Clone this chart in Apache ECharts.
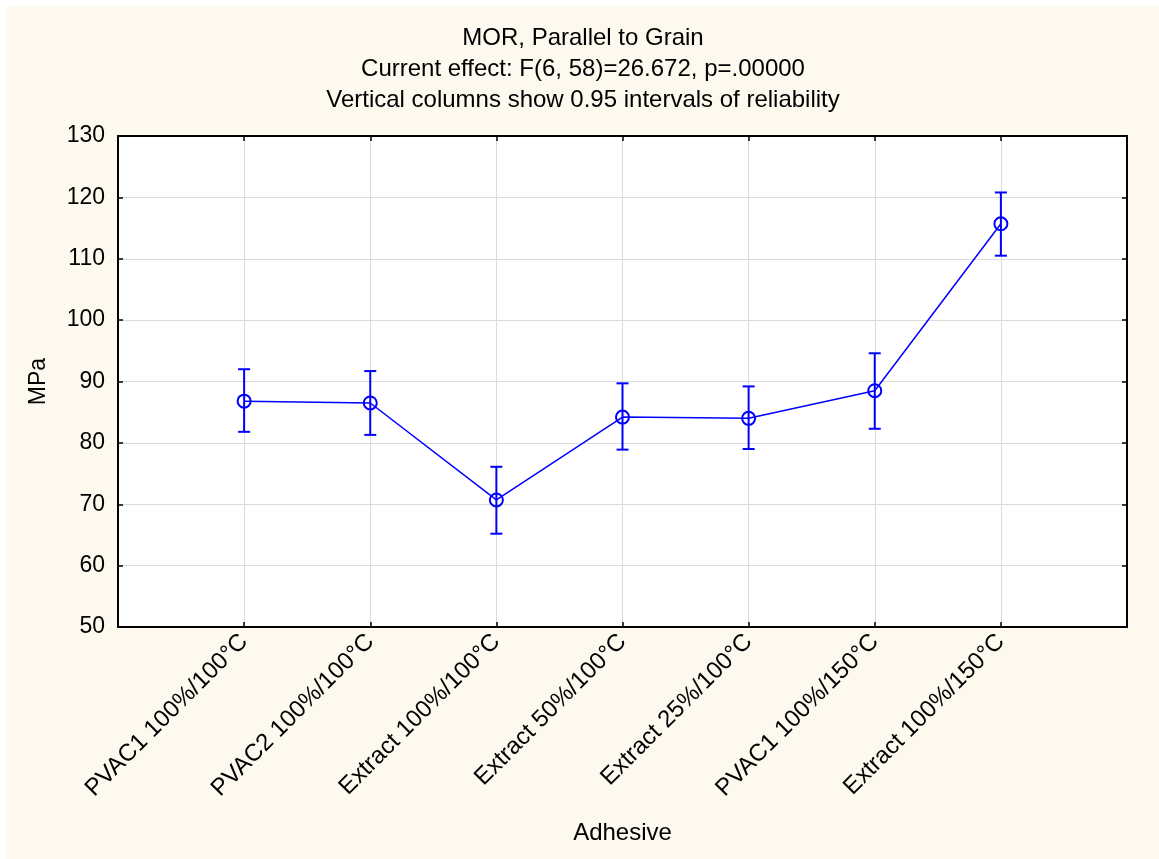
<!DOCTYPE html>
<html>
<head>
<meta charset="utf-8">
<script src="https://cdn.jsdelivr.net/npm/echarts@6/dist/echarts.min.js"></script>
<style>
html,body{margin:0;padding:0;background:#ffffff;}
#wrap{position:absolute;left:7px;top:6px;width:1152px;height:853px;background:#FDF9EF;}
#chart{width:1152px;height:853px;}
</style>
</head>
<body>
<div id="wrap"><div id="chart"></div></div>
<script>
const titleLines = ["MOR, Parallel to Grain", "Current effect: F(6, 58)=26.672, p=.00000", "Vertical columns show 0.95 intervals of reliability"];
const categories = ["PVAC1 100%/100°C", "PVAC2 100%/100°C", "Extract 100%/100°C", "Extract 50%/100°C", "Extract 25%/100°C", "PVAC1 100%/150°C", "Extract 100%/150°C"];
const means = [86.8, 86.5, 70.7, 84.2, 84.0, 88.5, 115.7];
const upper = [92.0, 91.7, 76.1, 89.7, 89.2, 94.6, 120.8];
const lower = [81.8, 81.3, 65.2, 78.9, 79.0, 82.3, 110.5];
const yTicks = [50, 60, 70, 80, 90, 100, 110, 120, 130];
const xName = "Adhesive";
const yName = "MPa";

// padded categories so that the plot has half-empty bands on both ends
const axisCats = [""].concat(categories, [""]);
const lineData = means.map((v, i) => [i + 1, v]);
const errData = means.map((v, i) => [i + 1, lower[i], upper[i]]);

const chart = echarts.init(document.getElementById('chart'), null, {renderer: 'canvas'});
const FONT = 'Liberation Sans, Arial, sans-serif';
const gridLine = {show: true, lineStyle: {color: '#dcdcdc', width: 1}};
chart.setOption({
  backgroundColor: 'transparent',
  animation: false,
  title: {
    text: titleLines.join('\n'),
    left: 'center',
    top: 12,
    textStyle: {fontFamily: FONT, fontSize: 24, fontWeight: 'normal', color: '#000', lineHeight: 31}
  },
  grid: {left: 111, top: 130, width: 1009, height: 491, containLabel: false,
         show: true, backgroundColor: '#ffffff', borderWidth: 0},
  xAxis: [{
    type: 'category',
    data: axisCats,
    boundaryGap: false,
    position: 'bottom',
    name: xName,
    nameLocation: 'middle',
    nameGap: 194,
    nameTextStyle: {fontFamily: FONT, fontSize: 24, color: '#000'},
    axisLine: {show: true, lineStyle: {color: '#000', width: 2}},
    axisTick: {show: true, inside: true, length: 5, lineStyle: {color: '#000', width: 1.5}, interval: 0},
    axisLabel: {rotate: 45, interval: 0, fontFamily: FONT, fontSize: 24, color: '#000', margin: 11},
    splitLine: {show: true, interval: 0, lineStyle: {color: '#dcdcdc', width: 1}}
  }, {
    type: 'category',
    data: axisCats,
    boundaryGap: false,
    position: 'top',
    axisLine: {show: true, lineStyle: {color: '#000', width: 2}},
    axisTick: {show: true, inside: true, length: 5, lineStyle: {color: '#000', width: 1.5}, interval: 0},
    axisLabel: {show: false},
    splitLine: {show: false}
  }],
  yAxis: [{
    type: 'value',
    min: yTicks[0],
    max: yTicks[yTicks.length - 1],
    interval: 10,
    position: 'left',
    name: yName,
    nameLocation: 'middle',
    nameGap: 68,
    nameTextStyle: {fontFamily: FONT, fontSize: 23, color: '#000'},
    axisLine: {show: true, lineStyle: {color: '#000', width: 2}},
    axisTick: {show: true, inside: true, length: 5, lineStyle: {color: '#000', width: 1.5}},
    axisLabel: {fontFamily: FONT, fontSize: 23, color: '#000', margin: 13},
    splitLine: gridLine
  }, {
    type: 'value',
    min: yTicks[0],
    max: yTicks[yTicks.length - 1],
    interval: 10,
    position: 'right',
    axisLine: {show: true, lineStyle: {color: '#000', width: 2}},
    axisTick: {show: true, inside: true, length: 5, lineStyle: {color: '#000', width: 1.5}},
    axisLabel: {show: false},
    splitLine: {show: false}
  }],
  series: [{
    type: 'custom',
    xAxisIndex: 0,
    yAxisIndex: 0,
    data: errData,
    z: 3,
    renderItem: function (params, api) {
      const lo = api.coord([api.value(0), api.value(1)]);
      const hi = api.coord([api.value(0), api.value(2)]);
      const hw = 6;
      const st = {stroke: '#0000FF', lineWidth: 2};
      return {
        type: 'group',
        children: [
          {type: 'line', shape: {x1: lo[0], y1: lo[1], x2: hi[0], y2: hi[1]}, style: st},
          {type: 'line', shape: {x1: lo[0] - hw, y1: lo[1], x2: lo[0] + hw, y2: lo[1]}, style: st},
          {type: 'line', shape: {x1: hi[0] - hw, y1: hi[1], x2: hi[0] + hw, y2: hi[1]}, style: st}
        ]
      };
    }
  }, {
    type: 'line',
    xAxisIndex: 0,
    yAxisIndex: 0,
    data: lineData,
    z: 4,
    symbol: 'circle',
    symbolSize: 13,
    lineStyle: {color: '#0000FF', width: 1.5},
    itemStyle: {color: 'rgba(0,0,0,0)', borderColor: '#0000FF', borderWidth: 2}
  }]
});
</script>
</body>
</html>
